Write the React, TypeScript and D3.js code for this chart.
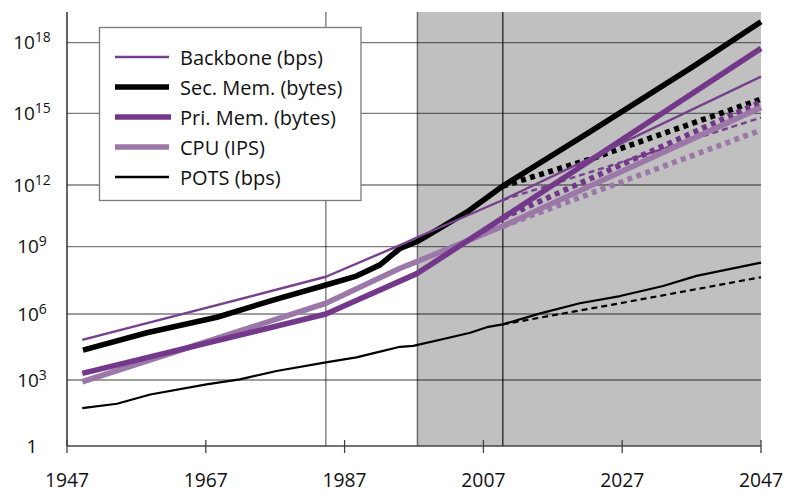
import * as d3 from "d3";

// log10 values, [year, log10(value)]
const backboneHist: [number, number][] = [[1949.2, 4.82], [1984.3, 7.66], [1995, 9.08], [1997.5, 9.46], [2009.8, 11.27]];
const backboneHigh: [number, number][] = [[2009.8, 11.27], [2047, 16.56]];
const backboneLow: [number, number][] = [[2009.8, 11.27], [2047, 14.82]];

const secMemHist: [number, number][] = [
  [1949.3, 4.36], [1958.5, 5.15], [1968.6, 5.85], [1976.7, 6.62], [1984.3, 7.29], [1988.7, 7.69],
  [1992.1, 8.19], [1995, 8.93], [1997.4, 9.24], [2000.7, 9.89], [2004.6, 10.68], [2009.8, 11.95],
];
const secMemHigh: [number, number][] = [[2009.8, 11.95], [2022.4, 14.23], [2037.2, 16.98], [2047, 18.89]];
const secMemLow: [number, number][] = [[2009.8, 11.95], [2022.8, 13.12], [2047, 15.6]];

const priMemHist: [number, number][] = [[1949.2, 3.3], [1984.3, 6.0], [1997.4, 7.8], [2009.8, 10.4]];
const priMemHigh: [number, number][] = [[2009.8, 10.4], [2047, 17.76]];
const priMemLow: [number, number][] = [[2009.8, 10.4], [2047, 15.48]];

const cpuHist: [number, number][] = [[1949.2, 2.92], [1984.3, 6.48], [1995, 8.04], [1997.4, 8.33], [2009.8, 10.0]];
const cpuHigh: [number, number][] = [[2009.8, 10.0], [2047, 15.25]];
const cpuLow: [number, number][] = [[2009.8, 10.0], [2047, 14.3]];

const potsHist: [number, number][] = [
  [1949.2, 1.72], [1954.2, 1.92], [1959, 2.34], [1967.1, 2.8], [1971.9, 3.03], [1977.2, 3.41],
  [1984.3, 3.8], [1988.7, 4.03], [1992.1, 4.29], [1995, 4.51], [1996.9, 4.55], [2001.7, 4.9],
  [2005.1, 5.15], [2007.5, 5.4], [2009.8, 5.53],
];
const potsHigh: [number, number][] = [
  [2009.8, 5.53], [2015.2, 6.03], [2020.9, 6.48], [2026.7, 6.8], [2032.9, 7.25], [2037.7, 7.7], [2047, 8.29],
];
const potsLow: [number, number][] = [[2009.8, 5.53], [2026.7, 6.48], [2047, 7.64]];

const xTicks = [1947, 1967, 1987, 2007, 2027, 2047];
const yExponents = [0, 3, 6, 9, 12, 15, 18];
const forecastStart = 1997.5;
const markerYears = [1984.3, 2009.8];

const legendItems = [
  { label: "Backbone (bps)", color: "#76408c", width: 2.6, len: 54 },
  { label: "Sec. Mem. (bytes)", color: "#000", width: 5.6, len: 54 },
  { label: "Pri. Mem. (bytes)", color: "#74388a", width: 5.6, len: 56 },
  { label: "CPU (IPS)", color: "#9c78a8", width: 5.6, len: 54 },
  { label: "POTS (bps)", color: "#000", width: 2.6, len: 54 },
];

const font = "'Open Sans', sans-serif";

export default function App() {
  const W = 788;
  const H = 493;
  const top = 12;
  const x = d3.scaleLinear().domain([1947, 2047]).range([67, 761]);
  // the gridlines in the picture are not evenly spaced, so the scale is piecewise
  const y = d3.scaleLinear().domain(yExponents).range([446, 380, 314, 246.7, 185, 113.3, 42.7]);
  const line = d3.line<[number, number]>().x((d) => x(d[0])).y((d) => y(d[1]));

  const dotted = [
    { d: secMemLow, color: "#000", w: 5.6, dash: "5,4.5" },
    { d: priMemLow, color: "#74388a", w: 5.6, dash: "5,4.5" },
    { d: cpuLow, color: "#9c78a8", w: 5.6, dash: "5,4.5" },
    { d: backboneLow, color: "#76408c", w: 2.4, dash: "6,4" },
    { d: potsLow, color: "#000", w: 2.2, dash: "6,4" },
  ];
  const solid = [
    { d: cpuHist.concat(cpuHigh.slice(1)), color: "#9c78a8", w: 5.6 },
    { d: priMemHist.concat(priMemHigh.slice(1)), color: "#74388a", w: 5.6 },
    { d: secMemHist.concat(secMemHigh.slice(1)), color: "#000", w: 5.6 },
    { d: backboneHist.concat(backboneHigh.slice(1)), color: "#76408c", w: 2.4 },
    { d: potsHist.concat(potsHigh.slice(1)), color: "#000", w: 2.2 },
  ];

  return (
    <svg width={W} height={H} style={{ position: "absolute", left: 0, top: 0 }} fontFamily={font}>
      <rect x={0} y={0} width={W} height={H} fill="#fff" />
      <rect x={x(forecastStart)} y={top} width={x(2047) - x(forecastStart)} height={y(0) - top} fill="#c0c0c0" />
      <line x1={x(forecastStart)} x2={x(forecastStart)} y1={top} y2={y(0)} stroke="#6a6a6a" strokeWidth={1.5} />
      {yExponents.slice(1).map((e) => (
        <line key={e} x1={x(1947)} x2={x(2047)} y1={y(e)} y2={y(e)} stroke="rgba(0,0,0,0.52)" strokeWidth={1.3} />
      ))}
      <line x1={x(markerYears[0])} x2={x(markerYears[0])} y1={top} y2={y(0)} stroke="rgba(0,0,0,0.6)" strokeWidth={1.2} />
      <line x1={x(markerYears[1])} x2={x(markerYears[1])} y1={top} y2={y(0)} stroke="#111" strokeWidth={1.2} />
      <line x1={x(1947)} x2={x(1947)} y1={top} y2={y(0)} stroke="#111" strokeWidth={1.3} />
      <line x1={x(1947)} x2={x(2047)} y1={y(0)} y2={y(0)} stroke="#444" strokeWidth={1.3} />
      {xTicks.map((t) => (
        <g key={t}>
          <line x1={x(t)} x2={x(t)} y1={y(0) - 6} y2={y(0) + 7} stroke="#444" strokeWidth={1.3} />
          <text x={x(t)} y={487} textAnchor="middle" fontSize={19.3} fill="#111">{t}</text>
        </g>
      ))}
      {yExponents.map((e) => (
        <text key={e} x={32} y={y(e) + 6.5} textAnchor="middle" fontSize={19} fill="#111">
          {e === 0 ? "1" : "10"}
          {e !== 0 && <tspan fontSize={14} dy={-7}>{e}</tspan>}
        </text>
      ))}
      {dotted.map((s, i) => (
        <path key={"d" + i} d={line(s.d) ?? ""} fill="none" stroke={s.color} strokeWidth={s.w} strokeDasharray={s.dash} />
      ))}
      {solid.map((s, i) => (
        <path key={"s" + i} d={line(s.d) ?? ""} fill="none" stroke={s.color} strokeWidth={s.w} strokeLinejoin="round" />
      ))}
      <rect x={99.5} y={27.5} width={261.5} height={173} fill="#fff" stroke="#7a7a7a" strokeWidth={1.3} />
      {legendItems.map((it, i) => {
        const cy = 57 + i * 30;
        return (
          <g key={it.label}>
            <line x1={115} x2={115 + it.len} y1={cy} y2={cy} stroke={it.color} strokeWidth={it.width} />
            <text x={180} y={cy + 8} fontSize={20} fill="#111">{it.label}</text>
          </g>
        );
      })}
    </svg>
  );
}
